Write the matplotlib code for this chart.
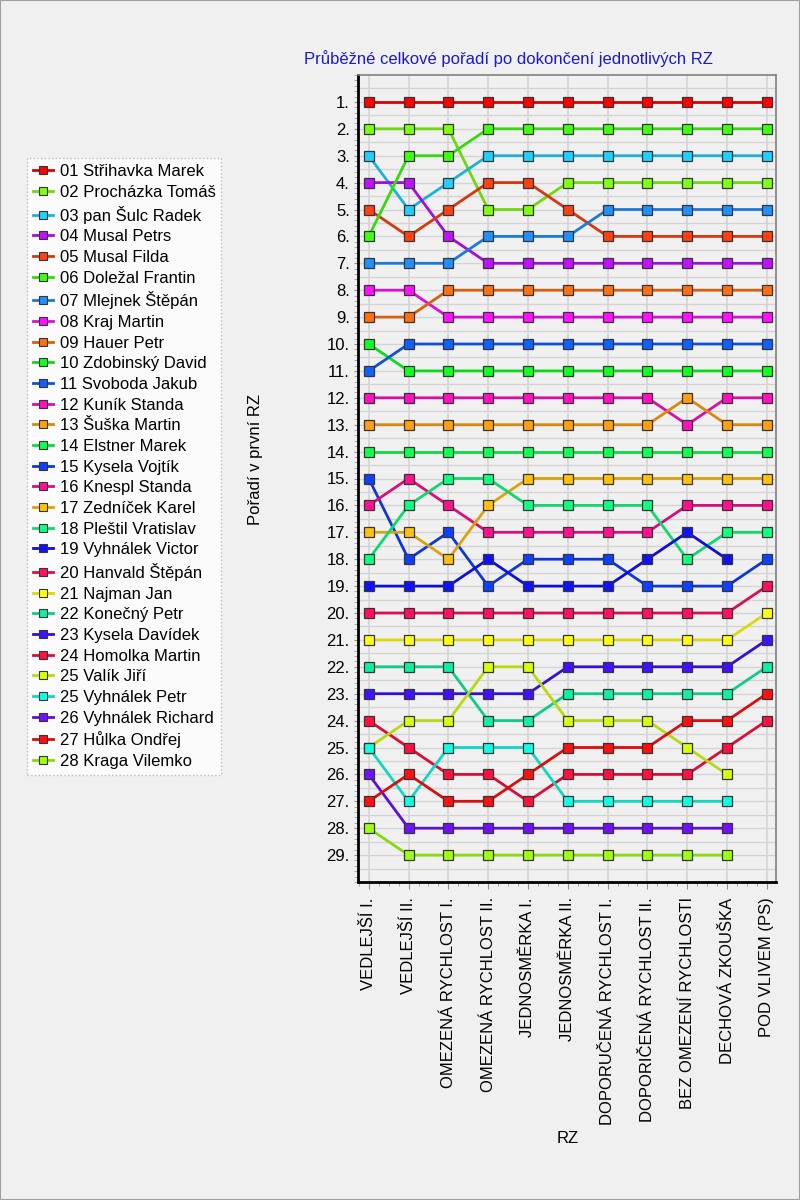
# Průběžné celkové pořadí - line chart of rank after each RZ
import matplotlib
matplotlib.use('Agg')
import matplotlib.pyplot as plt
from matplotlib.lines import Line2D
from matplotlib.patches import Rectangle
from matplotlib.ticker import MultipleLocator
import matplotlib.colors as mcolors
import numpy as np

plt.rcParams['font.family'] = ['Liberation Sans', 'DejaVu Sans']

# stages (RZ)
stages = ['VEDLEJŠÍ I.', 'VEDLEJŠÍ II.', 'OMEZENÁ RYCHLOST I.', 'OMEZENÁ RYCHLOST II.',
          'JEDNOSMĚRKA I.', 'JEDNOSMĚRKA II.', 'DOPORUČENÁ RYCHLOST I.',
          'DOPORIČENÁ RYCHLOST II.', 'BEZ OMEZENÍ RYCHLOSTI', 'DECHOVÁ ZKOUŠKA',
          'POD VLIVEM (PS)']

# crew names as in the legend
names = ['01 Střihavka Marek', '02 Procházka Tomáš', '03 pan Šulc Radek', '04 Musal Petrs',
         '05 Musal Filda', '06 Doležal Frantin', '07 Mlejnek Štěpán', '08 Kraj Martin',
         '09 Hauer Petr', '10 Zdobinský David', '11 Svoboda Jakub', '12 Kuník Standa',
         '13 Šuška Martin', '14 Elstner Marek', '15 Kysela Vojtík', '16 Knespl Standa',
         '17 Zedníček Karel', '18 Pleštil Vratislav', '19 Vyhnálek Victor', '20 Hanvald Štěpán',
         '21 Najman Jan', '22 Konečný Petr', '23 Kysela Davídek', '24 Homolka Martin',
         '25 Valík Jiří', '25 Vyhnálek Petr', '26 Vyhnálek Richard', '27 Hůlka Ondřej',
         '28 Kraga Vilemko']

colors = ['#ff0000', '#80ff10', '#20d0ff', '#c010ff', '#ff4010', '#40ff10', '#2090ff',
          '#ff10ff', '#ff7010', '#10ff20', '#1060ff', '#ff10c0', '#ffa010', '#10ff50',
          '#1040ff', '#ff1090', '#ffc010', '#10ff80', '#1010ff', '#ff1060', '#ffff10',
          '#10f0a0', '#4010ff', '#ff1040', '#d8ff10', '#10ffe0', '#7010ff', '#ff1010',
          '#a0ff10']

N = np.nan
# rank after each stage (NaN = did not continue)
ranks = [
    [1, 1, 1, 1, 1, 1, 1, 1, 1, 1, 1],
    [2, 2, 2, 5, 5, 4, 4, 4, 4, 4, 4],
    [3, 5, 4, 3, 3, 3, 3, 3, 3, 3, 3],
    [4, 4, 6, 7, 7, 7, 7, 7, 7, 7, 7],
    [5, 6, 5, 4, 4, 5, 6, 6, 6, 6, 6],
    [6, 3, 3, 2, 2, 2, 2, 2, 2, 2, 2],
    [7, 7, 7, 6, 6, 6, 5, 5, 5, 5, 5],
    [8, 8, 9, 9, 9, 9, 9, 9, 9, 9, 9],
    [9, 9, 8, 8, 8, 8, 8, 8, 8, 8, 8],
    [10, 11, 11, 11, 11, 11, 11, 11, 11, 11, 11],
    [11, 10, 10, 10, 10, 10, 10, 10, 10, 10, 10],
    [12, 12, 12, 12, 12, 12, 12, 12, 13, 12, 12],
    [13, 13, 13, 13, 13, 13, 13, 13, 12, 13, 13],
    [14, 14, 14, 14, 14, 14, 14, 14, 14, 14, 14],
    [15, 18, 17, 19, 18, 18, 18, 19, 19, 19, 18],
    [16, 15, 16, 17, 17, 17, 17, 17, 16, 16, 16],
    [17, 17, 18, 16, 15, 15, 15, 15, 15, 15, 15],
    [18, 16, 15, 15, 16, 16, 16, 16, 18, 17, 17],
    [19, 19, 19, 18, 19, 19, 19, 18, 17, 18, N],
    [20, 20, 20, 20, 20, 20, 20, 20, 20, 20, 19],
    [21, 21, 21, 21, 21, 21, 21, 21, 21, 21, 20],
    [22, 22, 22, 24, 24, 23, 23, 23, 23, 23, 22],
    [23, 23, 23, 23, 23, 22, 22, 22, 22, 22, 21],
    [24, 25, 26, 26, 27, 26, 26, 26, 26, 25, 24],
    [25, 24, 24, 22, 22, 24, 24, 24, 25, 26, N],
    [25, 27, 25, 25, 25, 27, 27, 27, 27, 27, N],
    [26, 28, 28, 28, 28, 28, 28, 28, 28, 28, N],
    [27, 26, 27, 27, 26, 25, 25, 25, 24, 24, 23],
    [28, 29, 29, 29, 29, 29, 29, 29, 29, 29, N],
]

rank_ticks = list(range(1, 30))


def darker(c, f=0.85):
    r, g, b = mcolors.to_rgb(c)
    return (r * f, g * f, b * f)


fig = plt.figure(figsize=(8, 12), dpi=100, facecolor='#f0f0f0')
ax = fig.add_axes([0.4475, 0.265, 0.5225, 0.6725], facecolor='#f0f0f0')

x = np.arange(len(stages))
handles = []
for name, col, r in zip(names, colors, ranks):
    ax.plot(x, r, color=darker(col), lw=2, marker='s', markersize=7.5,
            markerfacecolor=col, markeredgecolor='#353535', markeredgewidth=0.9, zorder=3)
    handles.append(Line2D([], [], color=darker(col), lw=2, marker='s', markersize=5.5,
                          markerfacecolor=col, markeredgecolor='#353535',
                          markeredgewidth=0.8))

ax.set_xlim(-0.27, 10.23)
ax.set_ylim(30, 0)
ax.set_yticks(rank_ticks, labels=[f'{v}.' for v in rank_ticks], fontsize=12)
ax.set_xticks(x, labels=stages, rotation=90, fontsize=12)
ax.xaxis.set_minor_locator(MultipleLocator(0.25))
ax.yaxis.set_minor_locator(MultipleLocator(0.2))
ax.tick_params(axis='x', which='major', length=5, color='#909090', pad=6)
ax.tick_params(axis='y', which='major', length=3, color='#909090', pad=3)
ax.tick_params(axis='both', which='minor', length=3, color='#a0a0a0')

# grid at every half rank and each stage
for yv in np.arange(0.5, 30, 0.5):
    ax.axhline(yv, color='#d4d4d4', lw=1, zorder=1)
ax.grid(axis='x', color='#d4d4d4', lw=1.2, zorder=1)

for side in ['left', 'bottom']:
    ax.spines[side].set_linewidth(2)
    ax.spines[side].set_color('black')
for side in ['top', 'right']:
    ax.spines[side].set_linewidth(1.2)
    ax.spines[side].set_color('#808080')

fig.text(0.636, 0.9515, 'Průběžné celkové pořadí po dokončení jednotlivých RZ',
         ha='center', va='center', color='#1a1acc', fontsize=12)
fig.text(0.319, 0.617, 'Pořadí v první RZ', rotation=90, ha='center', va='center',
         fontsize=12)
fig.text(0.709, 0.0515, 'RZ', ha='center', va='center', fontsize=12)

leg = fig.legend(handles, names, loc='upper left', bbox_to_anchor=(0.034, 0.868),
                 fontsize=12, labelspacing=0.34, handlelength=1.2, handletextpad=0.4,
                 borderpad=0.35, frameon=True, fancybox=False, borderaxespad=0)
leg.get_frame().set_facecolor('white')
leg.get_frame().set_edgecolor('#b0b0b0')
leg.get_frame().set_linestyle(':')

# thin border around the whole image
fig.patches.append(Rectangle((0, 0), 1, 1, transform=fig.transFigure, fill=False,
                             edgecolor='#a0a0a0', lw=1.5))

fig.savefig('out.png', dpi=100, facecolor=fig.get_facecolor())
